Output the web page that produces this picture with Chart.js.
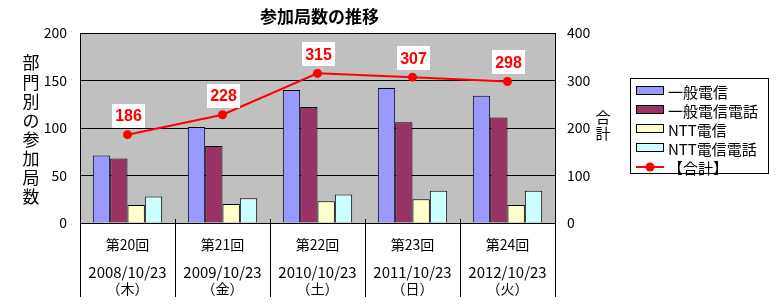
<!DOCTYPE html>
<html>
<head>
<meta charset="utf-8">
<script src="https://cdn.jsdelivr.net/npm/chart.js@4/dist/chart.umd.min.js"></script>
<style>
html,body{margin:0;padding:0;background:#fff;}
#wrap{width:779px;height:305px;position:relative;}
</style>
</head>
<body>
<div id="wrap"><canvas id="c" width="779" height="305"></canvas></div>
<script>
const categories = ['第20回', '第21回', '第22回', '第23回', '第24回'];
const dates = ['2008/10/23', '2009/10/23', '2010/10/23', '2011/10/23', '2012/10/23'];
const weekdays = ['（木）', '（金）', '（土）', '（日）', '（火）'];
const ippanDenshin = [71, 101, 140, 142, 134];
const ippanDenshinDenwa = [68, 81, 122, 106, 111];
const nttDenshin = [19, 20, 23, 25, 19];
const nttDenshinDenwa = [28, 26, 30, 34, 34];
const total = [186, 228, 315, 307, 298];
const leftTicks = [0, 50, 100, 150, 200];
const rightTicks = [0, 100, 200, 300, 400];

const FONT = '"Noto Sans CJK JP", sans-serif';
Chart.defaults.font.family = FONT;
Chart.defaults.color = '#000';

const chartPlugin = {
  id: 'excelLook',
  beforeDraw(chart) {
    const ctx = chart.ctx, a = chart.chartArea;
    ctx.save();
    ctx.fillStyle = '#fff';
    ctx.fillRect(0, 0, chart.width, chart.height);
    ctx.fillStyle = '#C0C0C0';
    ctx.fillRect(a.left, a.top, a.right - a.left, a.bottom - a.top);
    ctx.restore();
  },
  afterDraw(chart) {
    const ctx = chart.ctx, a = chart.chartArea;
    const xs = chart.scales.x;
    ctx.save();
    // plot border
    ctx.strokeStyle = '#000';
    ctx.lineWidth = 1;
    ctx.strokeRect(Math.round(a.left) + 0.5, Math.round(a.top) + 0.5, Math.round(a.right - a.left), Math.round(a.bottom - a.top));
    // category separators
    const bottomY = 297;
    const n = categories.length;
    const step = (a.right - a.left) / n;
    ctx.beginPath();
    for (let i = 0; i <= n; i++) {
      const xx = i < n ? Math.round(xs.getPixelForValue(i) - step / 2) + 0.5 : Math.round(xs.getPixelForValue(n - 1) + step / 2) + 0.5;
      const top = (i === 0 || i === n) ? a.bottom : a.bottom - 4;
      ctx.moveTo(xx, top);
      ctx.lineTo(xx, bottomY);
    }
    ctx.stroke();
    // category labels
    ctx.fillStyle = '#000';
    ctx.textAlign = 'center';
    ctx.textBaseline = 'middle';
    for (let i = 0; i < n; i++) {
      const x = xs.getPixelForValue(i);
      ctx.font = '14px ' + FONT;
      ctx.fillText(categories[i], x, 245);
      ctx.font = '15px ' + FONT;
      ctx.fillText(dates[i], x, 272);
      ctx.font = '14px ' + FONT;
      ctx.fillText(weekdays[i], x, 289);
    }
    // title
    ctx.font = 'bold 17px ' + FONT;
    ctx.fillText('参加局数の推移', (a.left + a.right) / 2 + 2, 17);
    // left axis title (vertical stacked)
    ctx.font = '17px ' + FONT;
    const lt = '部門別の参加局数'.split('');
    lt.forEach((ch, i) => ctx.fillText(ch, 31, 63 + i * 19.1));
    // right axis title
    ctx.font = '15px ' + FONT;
    ['合', '計'].forEach((ch, i) => ctx.fillText(ch, 603, 117 + i * 16));
    // data labels for total line
    const meta = chart.getDatasetMeta(4);
    meta.data.forEach((pt, i) => {
      const w = 33, h = 24;
      const cx = pt.x + 1, bottom = pt.y - 7;
      ctx.fillStyle = '#fff';
      ctx.fillRect(Math.round(cx - w / 2), Math.round(bottom - h), w, h);
      ctx.fillStyle = '#FF0000';
      ctx.font = 'bold 16px "Liberation Sans", Arial, sans-serif';
      ctx.fillText(String(total[i]), cx, bottom - h / 2 + 1);
    });
    // legend
    const lx = 630, ly = 78, lw = 138, lh = 95;
    ctx.fillStyle = '#fff';
    ctx.fillRect(lx, ly, lw, lh);
    ctx.strokeStyle = '#000';
    ctx.lineWidth = 1;
    ctx.strokeRect(lx + 0.5, ly + 0.5, lw, lh);
    ctx.textAlign = 'left';
    ctx.font = '15px ' + FONT;
    chart.data.datasets.forEach((ds, i) => {
      const cy = 91 + i * 19;
      if (ds.type === 'line') {
        ctx.strokeStyle = ds.borderColor;
        ctx.lineWidth = 2;
        ctx.beginPath();
        ctx.moveTo(636, cy);
        ctx.lineTo(664, cy);
        ctx.stroke();
        ctx.fillStyle = ds.borderColor;
        ctx.beginPath();
        ctx.arc(650, cy, 4.5, 0, Math.PI * 2);
        ctx.fill();
      } else {
        ctx.fillStyle = ds.backgroundColor;
        ctx.fillRect(636.5, cy - 4.5, 27, 8);
        ctx.strokeStyle = '#000';
        ctx.lineWidth = 1;
        ctx.strokeRect(636.5, cy - 4.5, 27, 8);
      }
      ctx.fillStyle = '#000';
      ctx.fillText(ds.label, 668, cy + 1);
    });
    ctx.restore();
  }
};

const barCommon = { borderColor: '#000', borderWidth: 1, yAxisID: 'y', order: 1,
  categoryPercentage: 0.73, barPercentage: 1.0 };

new Chart(document.getElementById('c'), {
  type: 'bar',
  data: {
    labels: categories,
    datasets: [
      Object.assign({ label: '一般電信', data: ippanDenshin, backgroundColor: '#9999FF' }, barCommon),
      Object.assign({ label: '一般電信電話', data: ippanDenshinDenwa, backgroundColor: '#993366' }, barCommon),
      Object.assign({ label: 'NTT電信', data: nttDenshin, backgroundColor: '#FFFFCC' }, barCommon),
      Object.assign({ label: 'NTT電信電話', data: nttDenshinDenwa, backgroundColor: '#CCFFFF' }, barCommon),
      { type: 'line', label: '【合計】', data: total, yAxisID: 'y2', order: 0,
        borderColor: '#FF0000', backgroundColor: '#FF0000', borderWidth: 2,
        pointRadius: 4.5, pointBackgroundColor: '#FF0000', pointBorderWidth: 0,
        tension: 0, fill: false }
    ]
  },
  options: {
    responsive: false,
    animation: false,
    events: [],
    layout: { padding: { top: 33, left: 0, right: 0, bottom: 0 } },
    plugins: { legend: { display: false }, title: { display: false }, tooltip: { enabled: false } },
    scales: {
      x: {
        type: 'category',
        offset: true,
        grid: { display: false },
        border: { display: false },
        ticks: { display: false },
        afterFit(s) { s.height = 82; }
      },
      y: {
        position: 'left',
        min: 0, max: 200,
        afterBuildTicks(s) { s.ticks = leftTicks.map(v => ({ value: v })); },
        grid: { color: '#000', lineWidth: 1, drawTicks: false },
        border: { display: false },
        ticks: { padding: 13, font: { size: 14 }, color: '#000' },
        afterFit(s) { s.width = 80; }
      },
      y2: {
        position: 'right',
        min: 0, max: 400,
        afterBuildTicks(s) { s.ticks = rightTicks.map(v => ({ value: v })); },
        grid: { drawOnChartArea: false, drawTicks: false },
        border: { display: false },
        ticks: { padding: 12, font: { size: 14 }, color: '#000' },
        afterFit(s) { s.width = 224; }
      }
    }
  },
  plugins: [chartPlugin]
});
</script>
</body>
</html>
